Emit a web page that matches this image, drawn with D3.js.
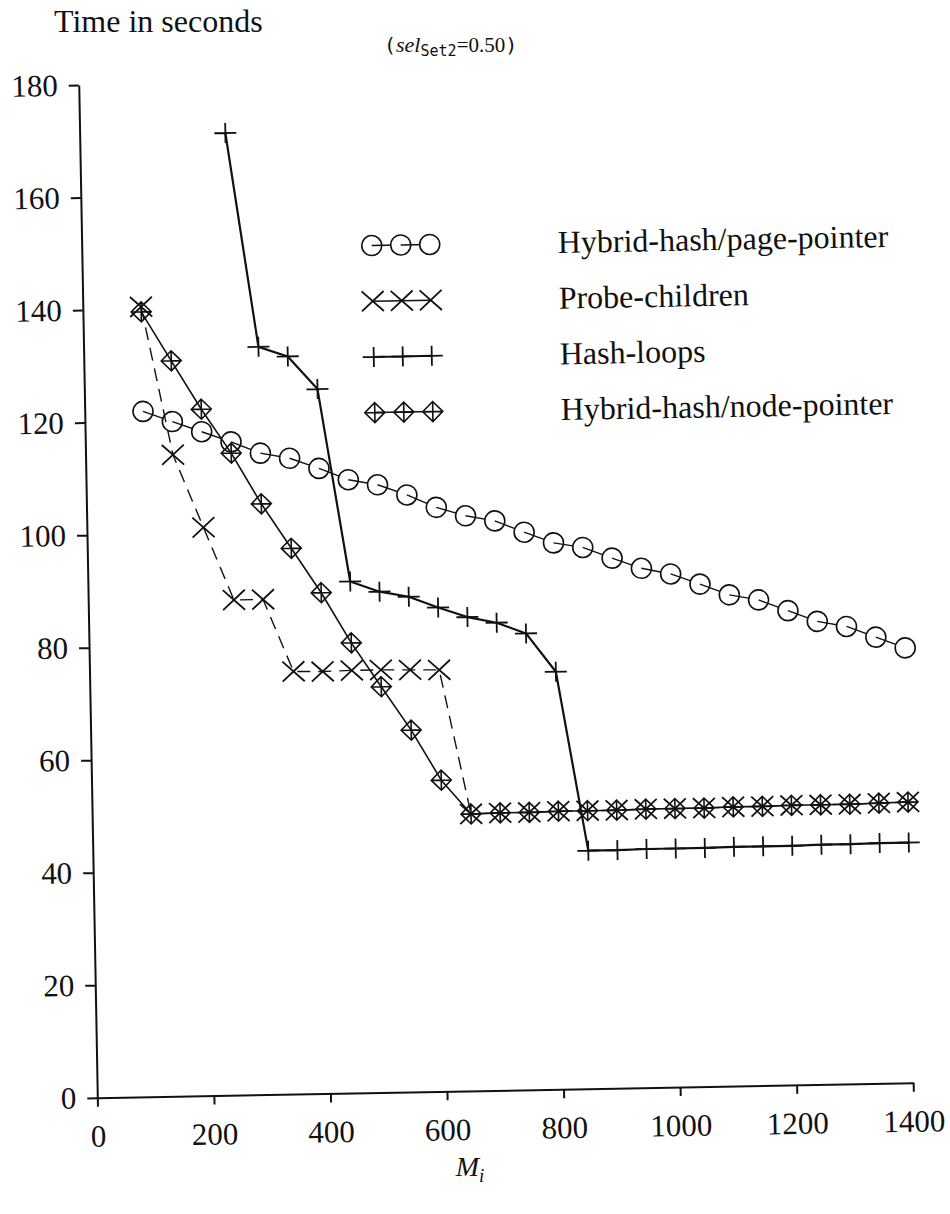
<!DOCTYPE html>
<html>
<head>
<meta charset="utf-8">
<script src="https://cdn.jsdelivr.net/npm/d3@7/dist/d3.min.js"></script>
<style>
html, body { margin: 0; padding: 0; background: #fff; }
svg { display: block; }
</style>
</head>
<body>
<svg id="chart" width="950" height="1214"></svg>
<script>
// Buffer size M_i (pages)
const mi = [100, 150, 200, 250, 300, 350, 400, 450, 500, 550, 600, 650, 700, 750,
            800, 850, 900, 950, 1000, 1050, 1100, 1150, 1200, 1250, 1300, 1350, 1400];
const hashLoopsMi = [250, 300, 350, 400, 450, 500, 550, 600, 650, 700, 750, 800,
                     850, 900, 950, 1000, 1050, 1100, 1150, 1200, 1250, 1300, 1350, 1400];

// Elapsed time in seconds, sel_Set2 = 0.50
const pagePointer = [121.8, 119.9, 118.0, 116.1, 114.0, 113.0, 111.1, 109.0, 108.0, 106.1,
                     103.8, 102.2, 101.2, 99.1, 97.1, 96.2, 94.2, 92.3, 91.2, 89.3,
                     87.3, 86.3, 84.3, 82.3, 81.3, 79.3, 77.3];
const probeChildren = [140.4, 114.0, 101.0, 88.0, 88.0, 75.1, 75.0, 75.1, 75.1, 75.0, 74.9,
                       49.2, 49.3, 49.3, 49.4, 49.4, 49.4, 49.5, 49.5, 49.5, 49.6,
                       49.6, 49.7, 49.7, 49.7, 49.8, 49.9];
const hashLoops = [171.0, 132.9, 131.1, 125.2, 90.9, 89.0, 88.0, 86.0, 84.2, 83.1, 81.1, 74.2,
                   42.3, 42.3, 42.4, 42.4, 42.4, 42.5, 42.5, 42.5, 42.6, 42.6, 42.7, 42.7];
const nodePointer = [139.5, 130.7, 122.0, 114.1, 105.0, 97.0, 89.0, 80.0, 72.1, 64.3, 55.3,
                     49.2, 49.3, 49.3, 49.4, 49.4, 49.4, 49.5, 49.5, 49.5, 49.6,
                     49.6, 49.7, 49.7, 49.7, 49.8, 49.9];

const xTicks = [0, 200, 400, 600, 800, 1000, 1200, 1400];
const yTicks = [0, 20, 40, 60, 80, 100, 120, 140, 160, 180];
const legendLabels = ["Hybrid-hash/page-pointer", "Probe-children", "Hash-loops", "Hybrid-hash/node-pointer"];

const SERIF = '"Liberation Serif", "Times New Roman", serif';
const MONO = '"DejaVu Sans Mono", "Liberation Mono", monospace';

const svg = d3.select("#chart");
svg.append("rect").attr("width", 950).attr("height", 1214).attr("fill", "#fff");

// plot frame: origin at the axis corner, slightly turned as on the printed page
const plot = svg.append("g").attr("transform", "translate(97.3,1097.7) rotate(-1.05)");

const x = d3.scaleLinear().domain([0, 1400]).range([0, 816]);
const y = d3.scaleLinear().domain([0, 180]).range([0, -1012.8]);

// axes
const yAxis = plot.append("g")
  .call(d3.axisLeft(y).tickValues(yTicks).tickFormat(d3.format("d"))
        .tickSize(10).tickSizeOuter(0).tickPadding(11));
const xAxis = plot.append("g")
  .call(d3.axisBottom(x).tickValues(xTicks).tickFormat(d3.format("d"))
        .tickSize(9).tickSizeOuter(0).tickPadding(18));
[yAxis, xAxis].forEach(a => {
  a.attr("font-family", null).attr("font-size", null);
  a.selectAll("path.domain").attr("stroke", "#111").attr("stroke-width", 2);
  a.selectAll(".tick line").attr("stroke", "#111").attr("stroke-width", 2);
  a.selectAll(".tick text").attr("fill", "#111")
    .style("font-family", SERIF).style("font-size", "31px");
});

// marker shapes
const markers = {
  circle: g => g.append("circle").attr("r", 10).attr("fill", "#fff")
                .attr("stroke", "#111").attr("stroke-width", 1.6),
  cross: g => g.append("path").attr("d", "M-11,-10L11,10M-11,10L11,-10")
               .attr("fill", "none").attr("stroke", "#111").attr("stroke-width", 1.8),
  plus: g => g.append("path").attr("d", "M-11,0H11M0,-10V10")
              .attr("fill", "none").attr("stroke", "#111").attr("stroke-width", 1.8),
  diamond: g => g.append("path").attr("d", "M0,-10L10,0L0,10L-10,0ZM-10,0H10M0,-10V10")
                 .attr("fill", "none").attr("stroke", "#111").attr("stroke-width", 1.6)
};

const line = d3.line().x(d => d[0]).y(d => d[1]);

// series whose open circles hide the line on their trailing side
function drawCircleSeries(g, pts, width) {
  pts.forEach((p, i) => {
    markers.circle(g.append("g").attr("transform", `translate(${p[0]},${p[1]})`));
    if (i < pts.length - 1) {
      g.append("path").attr("d", line([p, pts[i + 1]]))
        .attr("fill", "none").attr("stroke", "#111").attr("stroke-width", width);
    }
  });
}

function drawSeries(g, pts, shape, width, dash) {
  g.append("path").attr("d", line(pts))
    .attr("fill", "none").attr("stroke", "#111").attr("stroke-width", width)
    .attr("stroke-dasharray", dash || null).attr("stroke-linejoin", "round");
  g.selectAll(null).data(pts).join("g")
    .attr("transform", p => `translate(${p[0]},${p[1]})`)
    .each(function () { markers[shape](d3.select(this)); });
}

const pts = (xs, ys) => xs.map((v, i) => [x(v), y(ys[i])]);

drawCircleSeries(plot.append("g"), pts(mi, pagePointer), 1.4);
drawSeries(plot.append("g"), pts(mi, probeChildren), "cross", 1.4, "13,8");
drawSeries(plot.append("g"), pts(hashLoopsMi, hashLoops), "plus", 2.2);
drawSeries(plot.append("g"), pts(mi, nodePointer), "diamond", 1.6);

// legend
const legend = plot.append("g").attr("transform", "translate(290,-847)");
const legendShapes = ["circle", "cross", "plus", "diamond"];
legendLabels.forEach((label, i) => {
  const row = legend.append("g").attr("transform", `translate(0,${i * 55.7})`);
  const lp = [[0, 0], [29, 0], [58, 0]];
  if (i === 0) drawCircleSeries(row, lp, 1.4);
  else drawSeries(row, lp, legendShapes[i], i === 2 ? 2 : 1.5);
  row.append("text").attr("x", 186).attr("y", 0).attr("dy", "0.34em")
    .style("font-family", SERIF).style("font-size", "32px").attr("fill", "#111")
    .text(label);
});

// titles
svg.append("text").attr("x", 54).attr("y", 32)
  .style("font-family", SERIF).style("font-size", "32px").attr("fill", "#111")
  .text("Time in seconds");

const sel = svg.append("text").attr("x", 384).attr("y", 52).attr("fill", "#111")
  .style("font-size", "20px");
sel.append("tspan").style("font-family", MONO).text("(");
sel.append("tspan").style("font-family", SERIF).style("font-style", "italic")
  .style("font-size", "22px").text("sel");
sel.append("tspan").style("font-family", MONO).style("font-size", "15px")
  .attr("dy", 4).text("Set2");
sel.append("tspan").style("font-family", SERIF).style("font-size", "21px")
  .attr("dy", -4).text("=0.50");
sel.append("tspan").style("font-family", MONO).text(")");

const xl = svg.append("text").attr("x", 470).attr("y", 1176).attr("text-anchor", "middle")
  .attr("fill", "#111").style("font-family", SERIF).style("font-style", "italic")
  .style("font-size", "28px");
xl.append("tspan").text("M");
xl.append("tspan").attr("dy", 6).style("font-size", "19px").text("i");
</script>
</body>
</html>
